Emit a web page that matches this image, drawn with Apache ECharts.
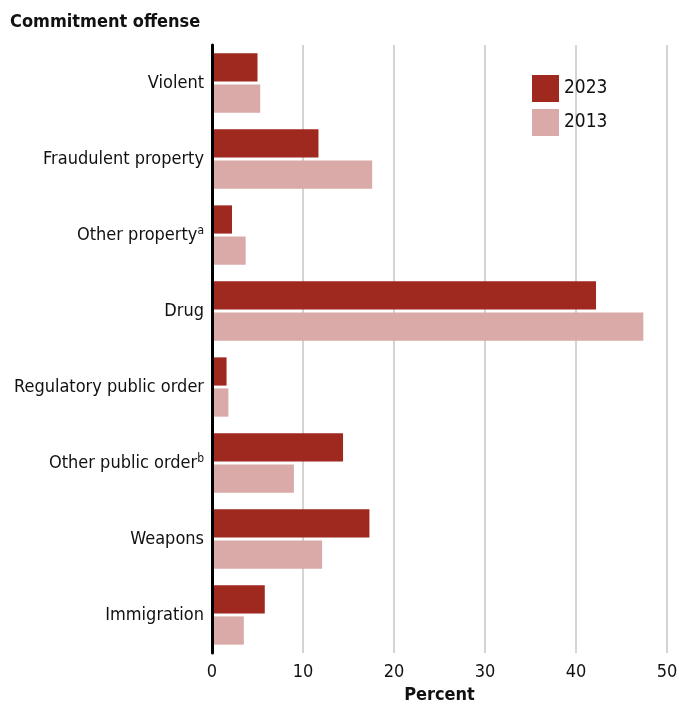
<!DOCTYPE html>
<html><head><meta charset="utf-8">
<script src="https://cdn.jsdelivr.net/npm/echarts@6/dist/echarts.min.js"></script>
<style>html,body{margin:0;padding:0;background:#fff}#c{width:679px;height:706px}</style>
</head><body><div id="c"></div>
<script>
const categories = ['Violent', 'Fraudulent property', 'Other property{sup|a}', 'Drug', 'Regulatory public order', 'Other public order{sup|b}', 'Weapons', 'Immigration'];
const values2023 = [5.0, 11.7, 2.2, 42.2, 1.6, 14.4, 17.3, 5.8];
const values2013 = [5.3, 17.6, 3.7, 47.4, 1.8, 9.0, 12.1, 3.5];
const xTicks = [0, 10, 20, 30, 40, 50];

const FONT = '"DejaVu Sans Condensed", "Roboto", sans-serif';
const chart = echarts.init(document.getElementById('c'), null, {renderer: 'canvas'});
chart.setOption({
  animation: false,
  textStyle: {fontFamily: FONT},
  title: [
    {text: 'Commitment offense', left: 10, top: 13, padding: 0, textStyle: {fontFamily: FONT, fontSize: 18, fontWeight: 'bold', color: '#111'}},
  ],
  legend: {
    left: 532, top: 75, padding: 0, orient: 'vertical', itemWidth: 27, itemHeight: 27, itemGap: 7,
    icon: 'rect',
    textStyle: {fontFamily: FONT, fontSize: 19, color: '#111'},
    data: ['2023', '2013']
  },
  grid: {left: 212, right: 12, top: 45, bottom: 53, containLabel: false, outerBoundsMode: 'none'},
  xAxis: {
    type: 'value', min: xTicks[0], max: xTicks[xTicks.length - 1], interval: 10,
    name: 'Percent', nameLocation: 'middle', nameGap: 30,
    nameTextStyle: {fontFamily: FONT, fontSize: 18, fontWeight: 'bold', color: '#111'},
    axisLine: {show: false}, axisTick: {show: false},
    axisLabel: {fontFamily: FONT, fontSize: 18, color: '#111', margin: 10},
    splitLine: {show: true, lineStyle: {color: '#d4d4d4', width: 2}}
  },
  yAxis: {
    type: 'category', inverse: true, data: categories,
    axisLine: {show: true, lineStyle: {color: '#000', width: 3}},
    axisTick: {show: false},
    axisLabel: {
      fontFamily: FONT, fontSize: 18, color: '#111', margin: 8,
      rich: {sup: {fontFamily: FONT, fontSize: 12, color: '#111', verticalAlign: 'top', padding: [0, 0, 9, 0]}}
    },
    z: 10
  },
  series: [
    {name: '2023', type: 'bar', data: values2023, itemStyle: {color: '#a0291f'}, barGap: '10%', barCategoryGap: '22%'},
    {name: '2013', type: 'bar', data: values2013, itemStyle: {color: '#d9aaa7'}}
  ]
});
</script></body></html>
